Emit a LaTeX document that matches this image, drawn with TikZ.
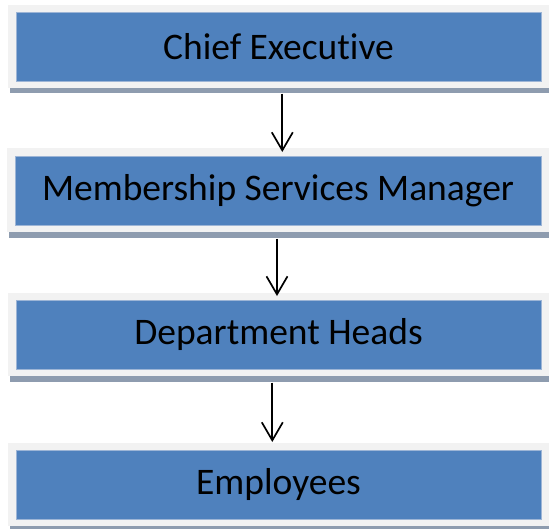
\documentclass[tikz,border=0pt]{standalone}
\usepackage{fontspec}
\setmainfont{Carlito}[Ligatures=NoCommon]
\usetikzlibrary{arrows.meta}
\definecolor{boxblue}{HTML}{4F81BD}
\definecolor{boxedge}{HTML}{9DB5D6}
\definecolor{framegrey}{HTML}{F2F2F2}
\definecolor{shadowgrey}{HTML}{8E9CAF}
\tikzset{
  frame/.style={fill=framegrey, draw=none, inner sep=0pt, outer sep=0pt},
  shadowbar/.style={fill=shadowgrey, draw=none, inner sep=0pt, outer sep=0pt},
  bluebox/.style={fill=boxblue, draw=boxedge, line width=0.8pt, inner sep=0pt, outer sep=0pt,
    font=\fontsize{37.5}{41}\selectfont, text=black},
  arr/.style={-{Straight Barb[length=18pt,width=21pt]}, line width=1.7pt, black}
}
\begin{document}
\begin{tikzpicture}[x=1pt,y=-1pt]
\useasboundingbox (0,0) rectangle (549,528);
% box 1
\path[frame] (8,4.7) rectangle (549,88);
\path[shadowbar] (10,88) rectangle (549,93);
\coordinate (s1) at (282.3,93.5);
\node[bluebox, minimum width=525pt, minimum height=69pt] (b1) at (278.5,46.5) {Chief Executive};
% box 2
\path[frame] (7,148) rectangle (549,232);
\path[shadowbar] (9,232) rectangle (549,238);
\coordinate (s2) at (277,238.5);
\node[bluebox, minimum width=526pt, minimum height=69pt] (b2) at (278,190.5) {Membership Services Manager};
% box 3
\path[frame] (8,293) rectangle (549,376);
\path[shadowbar] (10,376) rectangle (549,382);
\coordinate (s3) at (272.3,382.5);
\node[bluebox, minimum width=525pt, minimum height=69pt] (b3) at (278.5,334.5) {Department Heads};
% box 4
\path[frame] (8,443) rectangle (549,526);
\path[shadowbar] (10,526) rectangle (549,530);
\node[bluebox, minimum width=525pt, minimum height=69pt] (b4) at (278.5,484.5) {Employees};
% arrow end points
\coordinate (t1) at (282.3,152);
\coordinate (t2) at (277,296);
\coordinate (t3) at (272.3,442);
\draw[arr] (s1) -- (t1);
\draw[arr] (s2) -- (t2);
\draw[arr] (s3) -- (t3);
\end{tikzpicture}
\end{document}
